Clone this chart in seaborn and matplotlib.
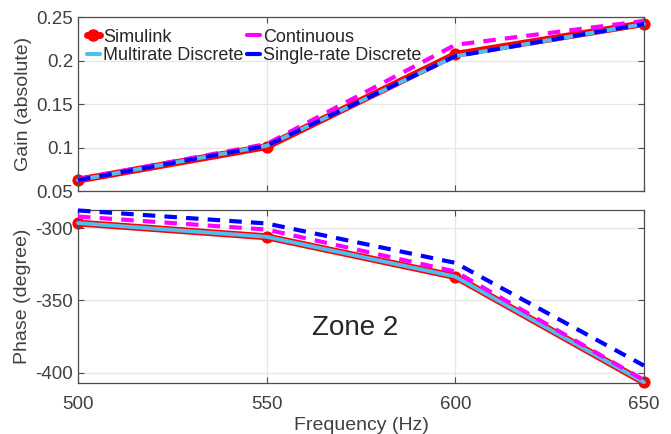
import numpy as np
import pandas as pd
import matplotlib
matplotlib.use("Agg")
import matplotlib.pyplot as plt
import seaborn as sns
from matplotlib.lines import Line2D

# Frequency points (Hz)
freq = [500, 550, 600, 650]

# Gain (absolute)
gain_simulink = [0.0625, 0.1010, 0.2070, 0.2425]
gain_continuous = [0.0635, 0.1040, 0.2180, 0.2455]
gain_multirate = [0.0625, 0.1020, 0.2050, 0.2420]
gain_single = [0.0625, 0.1020, 0.2050, 0.2420]

# Phase (degree)
phase_simulink = [-296.5, -306.0, -333.5, -406.5]
phase_continuous = [-292.0, -301.0, -330.0, -405.0]
phase_multirate = [-296.5, -306.0, -333.5, -406.5]
phase_single = [-287.8, -296.8, -324.0, -395.0]

series_names = ["Simulink", "Continuous", "Multirate Discrete", "Single-rate Discrete"]

sns.set_theme(style="ticks")
plt.rcParams["font.family"] = ["Liberation Sans", "DejaVu Sans"]
plt.rcParams["text.color"] = "#262626"

def long_frame(values):
    rows = []
    for name, vals in zip(series_names, values):
        for f, v in zip(freq, vals):
            rows.append({"freq": f, "value": v, "series": name})
    return pd.DataFrame(rows)

gain_df = long_frame([gain_simulink, gain_continuous, gain_multirate, gain_single])
phase_df = long_frame([phase_simulink, phase_continuous, phase_multirate, phase_single])

styles = {
    "Simulink": dict(color="#ff0000", lw=5.0, marker="o", ms=8, ls="-", z=2),
    "Multirate Discrete": dict(color="#4dbeee", lw=2.8, marker=None, ms=0, ls="-", z=3),
    "Continuous": dict(color="#ff00ff", lw=3.0, marker=None, ms=0, ls=(0, (3, 2.2)), z=4),
    "Single-rate Discrete": dict(color="#0000ff", lw=3.0, marker=None, ms=0, ls=(0, (3, 2.2)), z=5),
}
draw_order = ["Simulink", "Multirate Discrete", "Continuous", "Single-rate Discrete"]

fig = plt.figure(figsize=(6.71, 4.34), dpi=100)
ax1 = fig.add_axes([0.1162, 0.5599, 0.8435, 0.4009])
ax2 = fig.add_axes([0.1162, 0.1175, 0.8435, 0.3986])

def draw(ax, df):
    for name in draw_order:
        st = styles[name]
        sub = df[df["series"] == name]
        sns.lineplot(data=sub, x="freq", y="value", ax=ax, color=st["color"],
                     lw=st["lw"], ls=st["ls"], marker=st["marker"], ms=st["ms"],
                     mec=st["color"], mfc=st["color"], zorder=st["z"],
                     legend=False, clip_on=False)

draw(ax1, gain_df)
draw(ax2, phase_df)

for ax in (ax1, ax2):
    ax.set_xlim(500, 650)
    ax.set_xticks([500, 550, 600, 650])
    ax.grid(True, color="#e6e6e6", lw=0.9)
    ax.set_axisbelow(True)
    ax.tick_params(direction="in", top=True, right=True, length=4, width=0.8,
                   color="#4d4d4d", labelsize=13.5, labelcolor="#404040")
    for s in ax.spines.values():
        s.set_linewidth(0.9)
        s.set_color("#4d4d4d")

ax1.set_ylim(0.05, 0.25)
ax1.set_yticks([0.05, 0.1, 0.15, 0.2, 0.25])
ax1.set_yticklabels(["0.05", "0.1", "0.15", "0.2", "0.25"])
ax1.set_xticklabels([])
ax1.set_xlabel("")
ax1.set_ylabel("Gain (absolute)", fontsize=14, color="#404040", labelpad=3)

ax2.set_ylim(-407, -287.5)
ax2.set_yticks([-400, -350, -300])
ax2.set_yticklabels(["-400", "-350", "-300"])
ax2.set_xlabel("Frequency (Hz)", fontsize=14, color="#404040", labelpad=3)
ax2.set_ylabel("Phase (degree)", fontsize=14, color="#404040", labelpad=3)
ax2.tick_params(axis="x", pad=9)

ax2.text(573.5, -369, "Zone 2", fontsize=20, color="#262626", ha="center", va="center")

handles = [
    Line2D([], [], color="#ff0000", lw=5, marker="o", ms=8),
    Line2D([], [], color="#4dbeee", lw=3),
    Line2D([], [], color="#ff00ff", lw=3),
    Line2D([], [], color="#0000ff", lw=3),
]
labels = ["Simulink", "Multirate Discrete", "Continuous", "Single-rate Discrete"]
ax1.legend(handles, labels, ncol=2, loc="upper left", frameon=False, fontsize=13,
           handlelength=0.7, handletextpad=0.2, columnspacing=0.2,
           labelspacing=0.1, borderaxespad=0.1, bbox_to_anchor=(0.0, 0.985))

fig.savefig("out.png", dpi=100)
